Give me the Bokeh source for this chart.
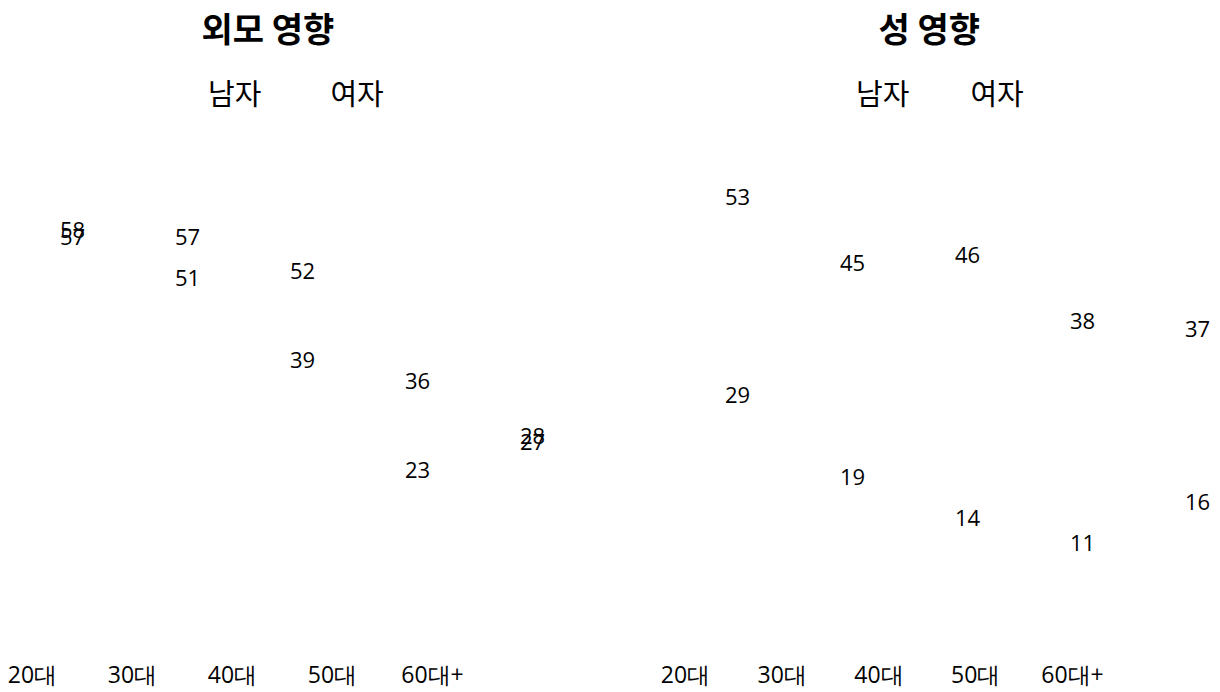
from bokeh.plotting import figure
from bokeh.models import (Range1d, LinearAxis, FixedTicker, ColumnDataSource,
                          Legend, LegendItem)
from bokeh.layouts import row
from bokeh.core.properties import value
from bokeh.embed import file_html
from bokeh.resources import INLINE

# ---- data ----
ages = ["20대", "30대", "40대", "50대", "60대+"]
series_names = ["남자", "여자"]
panel_titles = ["외모 영향", "성 영향"]
appear_male = [57, 51, 39, 23, 27]
appear_female = [58, 57, 52, 36, 28]
sex_male = [53, 45, 46, 38, 37]
sex_female = [29, 19, 14, 11, 16]

NUM_FONT = "Open Sans"
KR_FONT = "Noto Sans CJK KR"
FIG_H = 692


def make_panel(title, male, female, width, data_x, axis_x, yr, title_offset,
               legend_loc, legend_spacing):
    p = figure(width=width, height=FIG_H, output_backend="svg", toolbar_location=None,
               x_range=Range1d(*data_x), y_range=Range1d(*yr),
               x_axis_location=None, y_axis_location=None,
               min_border_left=0, min_border_right=0, min_border_top=0,
               min_border_bottom=0)
    p.outline_line_color = None
    p.xgrid.visible = False
    p.ygrid.visible = False
    p.background_fill_color = "white"
    p.border_fill_color = "white"

    p.title.text = title
    p.title.text_font = KR_FONT
    p.title.text_font_size = "34px"
    p.title.text_font_style = "bold"
    p.title.text_color = "#000000"
    p.title.align = "left"
    p.title.offset = title_offset
    p.title.standoff = 0

    p.extra_x_ranges = {"ax": Range1d(*axis_x)}
    ax = LinearAxis(x_range_name="ax", ticker=FixedTicker(ticks=list(range(len(ages)))),
                    major_label_overrides={i: a for i, a in enumerate(ages)})
    ax.axis_line_color = None
    ax.major_tick_line_color = None
    ax.minor_tick_line_color = None
    ax.major_tick_out = 0
    ax.major_label_standoff = 22
    ax.major_label_text_font = NUM_FONT
    ax.major_label_text_font_size = "23px"
    ax.major_label_text_color = "#000000"
    p.add_layout(ax, "below")

    xs = list(range(len(ages)))
    rm = p.line(xs, male, line_alpha=0)
    rf = p.line(xs, female, line_alpha=0)

    for vals in (male, female):
        src = ColumnDataSource(dict(x=xs, y=vals, t=[str(v) for v in vals]))
        p.text(x="x", y="y", text="t", source=src, text_align="center",
               text_baseline="middle", text_font=value(NUM_FONT), text_font_size="22px",
               text_color="#000000")

    leg = Legend(items=[LegendItem(label=series_names[0], renderers=[rm]),
                        LegendItem(label=series_names[1], renderers=[rf])],
                 orientation="horizontal", location=legend_loc,
                 spacing=legend_spacing, glyph_width=20, label_standoff=5,
                 border_line_alpha=0, background_fill_alpha=0,
                 label_text_font=KR_FONT, label_text_font_size="29px",
                 label_text_color="#000000")
    p.add_layout(leg)
    return p


# frame: left panel page x 0..600, right 600..1216 ; frame bottom ~634, top ~52
B, T = 634, 52
left = make_panel(panel_titles[0], appear_male, appear_female, 600,
                  (-0.626, 4.591), (-0.32, 5.68),
                  ((626 - B) / 6.83, (626 - T) / 6.83), 201, (173, 512), 44)
right = make_panel(panel_titles[1], sex_male, sex_female, 616,
                   (-1.1913, 4.1652), (-0.8786, 5.4883),
                   ((632 - B) / 8.2, (632 - T) / 8.2), 278, (221, 512), 36)

layout = row(left, right)
open("out.html", "w").write(file_html(layout, INLINE))
